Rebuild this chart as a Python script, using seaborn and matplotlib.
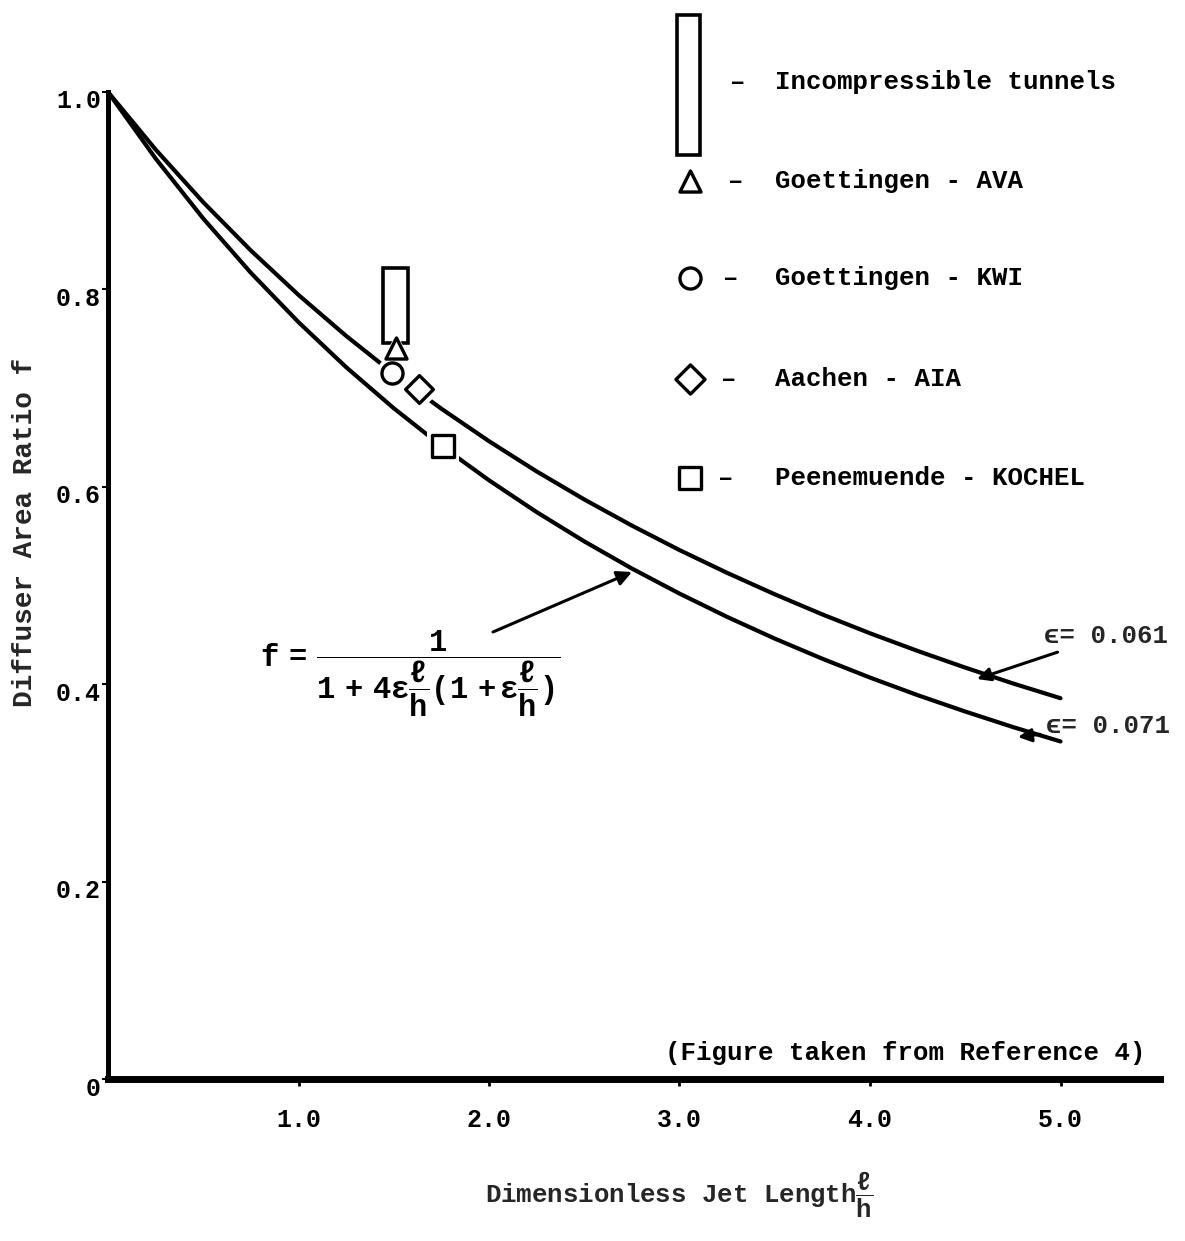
import matplotlib
matplotlib.use("Agg")
import matplotlib.pyplot as plt
import seaborn as sns
import pandas as pd
from matplotlib.transforms import ScaledTranslation

# ---------------- data ----------------
jet_length = [0.0, 0.25, 0.5, 0.75, 1.0, 1.25, 1.5, 1.75, 2.0, 2.25, 2.5,
              2.75, 3.0, 3.25, 3.5, 3.75, 4.0, 4.25, 4.5, 4.75, 5.0]
f_eps_0061 = [1.0, 0.9417, 0.8883, 0.8394, 0.7944, 0.7529, 0.7145, 0.6791,
              0.6462, 0.6156, 0.5872, 0.5607, 0.5359, 0.5128, 0.4911, 0.4707,
              0.4516, 0.4337, 0.4168, 0.4008, 0.3858]
f_eps_0071 = [1.0, 0.9326, 0.8718, 0.8168, 0.7668, 0.7212, 0.6796, 0.6415,
              0.6066, 0.5744, 0.5447, 0.5172, 0.4918, 0.4682, 0.4462, 0.4258,
              0.4067, 0.3889, 0.3723, 0.3566, 0.3420]

tunnel_x = [1.51]
tunnel_low = [0.746]
tunnel_high = [0.822]

facility_names = ["Goettingen - AVA", "Goettingen - KWI", "Aachen - AIA",
                  "Peenemuende - KOCHEL"]
facility_x = [1.51, 1.49, 1.63, 1.76]
facility_f = [0.741, 0.715, 0.699, 0.641]
facility_markers = ["^", "o", "D", "s"]

x_ticks = [1.0, 2.0, 3.0, 4.0, 5.0]
x_tick_labels = ["1.0", "2.0", "3.0", "4.0", "5.0"]
y_ticks = [0.0, 0.2, 0.4, 0.6, 0.8, 1.0]
y_tick_labels = ["0", "0.2", "0.4", "0.6", "0.8", "1.0"]

# ---------------- style ----------------
sns.set_theme(style="white")
plt.rcParams["font.family"] = ["Liberation Mono", "DejaVu Sans Mono", "DejaVu Sans"]
plt.rcParams["font.weight"] = "bold"
plt.rcParams["mathtext.fontset"] = "custom"
plt.rcParams["mathtext.rm"] = "Liberation Mono:bold"
plt.rcParams["mathtext.it"] = "Liberation Mono:bold"
plt.rcParams["mathtext.bf"] = "Liberation Mono:bold"
plt.rcParams["mathtext.sf"] = "Liberation Mono:bold"

W, H = 1185, 1241
L, R, T, B = 108, 1160, 92, 1079
PX_PER_X = 190.5

fig = plt.figure(figsize=(W / 100, H / 100), dpi=100, facecolor="white")
ax = fig.add_axes([L / W, 1 - B / H, (R - L) / W, (B - T) / H])
ax.set_facecolor("white")
ax.set_xlim(0, (R - L) / PX_PER_X)
ax.set_ylim(0, 1)

curves = pd.DataFrame({
    "x": jet_length * 2,
    "f": f_eps_0061 + f_eps_0071,
    "eps": ["0.061"] * len(jet_length) + ["0.071"] * len(jet_length),
})
sns.lineplot(data=curves, x="x", y="f", units="eps", estimator=None,
             color="black", linewidth=3.0, ax=ax, legend=False, zorder=2)

# incompressible tunnels bar (hollow rectangle)
ax.bar(tunnel_x, [h - l for h, l in zip(tunnel_high, tunnel_low)],
       bottom=tunnel_low, width=0.13, facecolor="white", edgecolor="black",
       linewidth=2.6, zorder=4)

# facility markers with white halos to break the curves
for xv, fv, m in zip(facility_x, facility_f, facility_markers):
    ax.scatter([xv], [fv], marker=m, s=520, color="white", edgecolors="white",
               linewidths=0, zorder=5)
for xv, fv, m in zip(facility_x, facility_f, facility_markers):
    size = 230 if m != "D" else 200
    ax.scatter([xv], [fv], marker=m, s=size, facecolors="white",
               edgecolors="black", linewidths=2.4, zorder=6)

# axes styling
ax.spines[["top", "right"]].set_visible(False)
ax.spines["left"].set_linewidth(3.6)
ax.spines["bottom"].set_linewidth(5)
for s in ("left", "bottom"):
    ax.spines[s].set_color("black")
    ax.spines[s].set_capstyle("projecting")
ax.set_xticks(x_ticks)
ax.set_xticklabels(x_tick_labels)
ax.set_yticks(y_ticks)
ax.set_yticklabels(y_tick_labels)
ax.tick_params(axis="x", bottom=True, direction="out", length=5, width=2,
               pad=16, labelsize=18, colors="black")
ax.tick_params(axis="y", left=True, direction="out", length=4, width=1.5,
               pad=1, labelsize=18, colors="black")
for lab in ax.get_yticklabels():
    lab.set_transform(lab.get_transform() +
                      ScaledTranslation(0, -0.07, fig.dpi_scale_trans))
ax.set_xlabel("")
ax.set_ylabel("")


def d(px, py):
    """pixel position -> data coordinates"""
    return (px - L) / PX_PER_X, (B - py) / (B - T)


# legend drawn by hand (upper right)
lx0, ly0 = d(677, 155)
lx1, ly1 = d(700, 15)
ax.bar([(lx0 + lx1) / 2], [ly1 - ly0], bottom=[ly0], width=lx1 - lx0,
       facecolor="white", edgecolor="black", linewidth=2.6, clip_on=False)
leg_rows = [(82, None, "Incompressible tunnels", 738),
            (181, "^", facility_names[0], 736),
            (278, "o", facility_names[1], 731),
            (379, "D", facility_names[2], 729),
            (478, "s", facility_names[3], 726)]
for py, m, name, dash_x in leg_rows:
    mx, my = d(690, py)
    if m is not None:
        ax.scatter([mx], [my], marker=m, s=230 if m != "D" else 220,
                   facecolors="white", edgecolors="black", linewidths=2.4,
                   clip_on=False, zorder=6)
    dx, dy = d(dash_x, py)
    ax.text(dx, dy, "–", ha="center", va="center", fontsize=18.5,
            fontweight="bold", color="black")
    tx, ty = d(775, py)
    ax.text(tx, ty, name, ha="left", va="center", fontsize=18.5,
            fontweight="bold", color="black")

# epsilon labels with arrows
ax.annotate("ϵ= 0.061", xy=d(977, 679), xytext=d(1044, 636),
            ha="left", va="center", fontsize=18.5, fontweight="bold",
            arrowprops=dict(arrowstyle="-|>", color="black", lw=2.2,
                            mutation_scale=20, shrinkA=2, shrinkB=0))
ax.annotate("ϵ= 0.071", xy=d(1018, 737), xytext=d(1046, 726),
            ha="left", va="center", fontsize=18.5, fontweight="bold",
            arrowprops=dict(arrowstyle="-|>", color="black", lw=2.2,
                            mutation_scale=20, shrinkA=2, shrinkB=0))

# formula with arrow
ax.annotate("", xy=d(632, 572), xytext=d(493, 632),
            arrowprops=dict(arrowstyle="-|>", color="black", lw=2.2,
                            mutation_scale=22, shrinkA=0, shrinkB=0))
fx, fy = d(260, 667)
ax.text(fx, fy,
        r"$f\ =\ \dfrac{1}{1\ +\ 4\epsilon\dfrac{\ell}{h}(1\ +\epsilon\dfrac{\ell}{h})}$",
        ha="left", va="baseline", fontsize=22, color="black")

# source note
nx, ny = d(1146, 1053)
ax.text(nx, ny, "(Figure taken from Reference 4)", ha="right", va="center",
        fontsize=18.5, fontweight="bold", color="black")

# axis titles
fig.text(25 / W, 1 - 532 / H, "Diffuser Area Ratio f", rotation=90,
         ha="center", va="center", fontsize=20, fontweight="bold")
fig.text(485 / W, 1 - 1195 / H, r"Dimensionless Jet Length$\dfrac{\ell}{h}$",
         ha="left", va="center", fontsize=18.5, fontweight="bold")

fig.savefig("out.png", dpi=100, facecolor="white")
